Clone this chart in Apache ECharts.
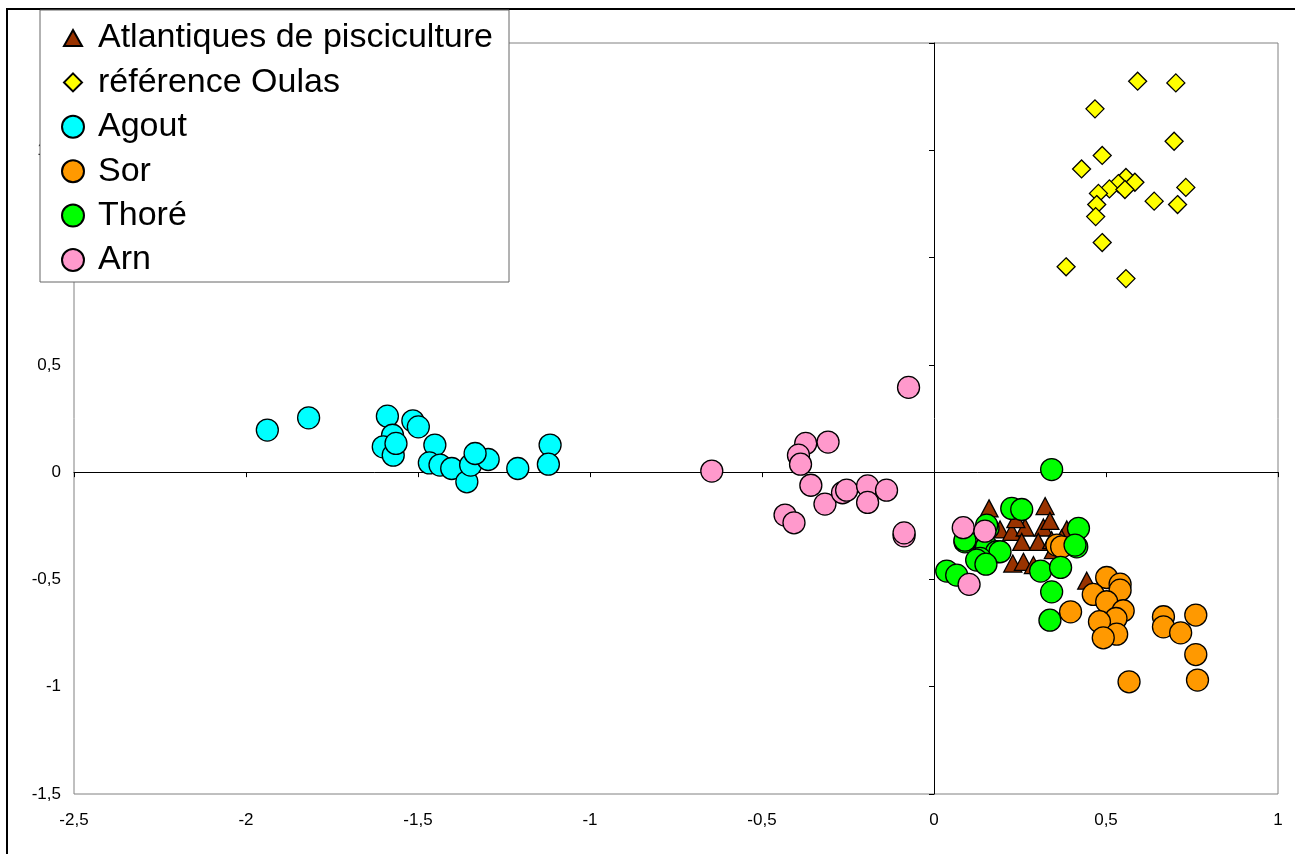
<!DOCTYPE html>
<html>
<head>
<meta charset="utf-8">
<script src="https://cdn.jsdelivr.net/npm/echarts@6/dist/echarts.min.js"></script>
<style>
html,body{margin:0;padding:0;background:#fff;}
#chart{width:1295px;height:854px;}
</style>
</head>
<body>
<div id="chart"></div>
<script>
const seriesNames = ['Atlantiques de pisciculture', 'référence Oulas', 'Agout', 'Sor', 'Thoré', 'Arn'];

const atlantiques = [
  [0.160,-0.169],[0.323,-0.158],[0.192,-0.267],[0.226,-0.278],[0.265,-0.258],[0.318,-0.258],
  [0.337,-0.227],[0.238,-0.219],[0.255,-0.325],[0.303,-0.325],[0.342,-0.317],[0.386,-0.267],
  [0.371,-0.309],[0.229,-0.426],[0.260,-0.418],[0.289,-0.433],[0.347,-0.363],[0.444,-0.506]
];
const oulas = [
  [0.592,1.822],[0.703,1.814],[0.468,1.693],[0.698,1.542],[0.489,1.476],[0.429,1.413],
  [0.558,1.373],[0.536,1.345],[0.584,1.351],[0.732,1.327],[0.510,1.320],[0.555,1.317],
  [0.478,1.299],[0.640,1.263],[0.708,1.247],[0.473,1.247],[0.470,1.191],[0.489,1.070],
  [0.384,0.957],[0.558,0.902]
];
const agout = [
  [-1.938,0.196],[-1.818,0.253],[-1.589,0.261],[-1.574,0.172],[-1.601,0.118],[-1.572,0.079],
  [-1.564,0.134],[-1.515,0.239],[-1.499,0.211],[-1.451,0.126],[-1.467,0.043],[-1.436,0.033],
  [-1.402,0.017],[-1.358,-0.045],[-1.347,0.033],[-1.296,0.059],[-1.334,0.087],[-1.210,0.017],
  [-1.116,0.126],[-1.121,0.037]
];
const sor = [
  [0.357,-0.340],[0.371,-0.348],[0.502,-0.491],[0.541,-0.522],[0.463,-0.570],[0.541,-0.550],
  [0.502,-0.604],[0.550,-0.646],[0.529,-0.682],[0.481,-0.697],[0.531,-0.755],[0.492,-0.772],
  [0.397,-0.651],[0.667,-0.674],[0.667,-0.721],[0.717,-0.749],[0.761,-0.666],[0.761,-0.850],
  [0.567,-0.977],[0.766,-0.969]
];
const thore = [
  [0.342,0.012],[0.226,-0.169],[0.255,-0.174],[0.157,-0.261],[0.153,-0.247],[0.090,-0.325],
  [0.090,-0.317],[0.153,-0.348],[0.182,-0.371],[0.192,-0.371],[0.134,-0.402],[0.124,-0.410],
  [0.151,-0.429],[0.037,-0.461],[0.066,-0.480],[0.310,-0.461],[0.368,-0.444],[0.342,-0.558],
  [0.337,-0.690],[0.420,-0.262],[0.415,-0.348],[0.410,-0.340]
];
const arn = [
  [-0.074,0.395],[-0.373,0.134],[-0.308,0.140],[-0.394,0.079],[-0.388,0.037],[-0.646,0.005],
  [-0.358,-0.061],[-0.317,-0.149],[-0.266,-0.096],[-0.254,-0.084],[-0.193,-0.064],[-0.193,-0.141],
  [-0.138,-0.084],[-0.433,-0.200],[-0.407,-0.236],[-0.087,-0.297],[-0.087,-0.283],
  [0.085,-0.259],[0.148,-0.275],[0.102,-0.523]
];

const xRange = {min: -2.5, max: 1, interval: 0.5};
const yRange = {min: -1.5, max: 2, interval: 0.5};

const fmt = v => String(Math.round(v * 10) / 10).replace('.', ',');
const font = 'Liberation Sans, Arial, sans-serif';

// legend icons: padded paths so that the drawn shape is smaller than the 22px icon box
const legendIcons = [
  'path://M0,0M22,22M11,3L20,19L2,19Z',
  'path://M0,0M22,22M11,2L20,11L11,20L2,11Z',
  'circle', 'circle', 'circle', 'circle'
];

const chart = echarts.init(document.getElementById('chart'), null, {renderer: 'canvas'});

function mk(name, data, symbol, size, color) {
  return {
    name: name, type: 'scatter', data: data,
    xAxisIndex: 0, yAxisIndex: 0,
    symbol: symbol, symbolSize: size, symbolKeepAspect: true,
    itemStyle: {color: color, borderColor: '#000', borderWidth: 1.3, opacity: 1},
    emphasis: {disabled: true}
  };
}

chart.setOption({
  animation: false,
  backgroundColor: '#fff',
  graphic: [{
    type: 'rect', z: -10, silent: true,
    shape: {x: 7, y: 9, width: 1400, height: 1000},
    style: {fill: 'none', stroke: '#000', lineWidth: 2}
  }],
  grid: {left: 74, top: 43, right: 17, bottom: 60, show: true, borderColor: '#808080', borderWidth: 1, backgroundColor: 'transparent'},
  legend: {
    orient: 'vertical', left: 40, top: 10,
    padding: [11, 16, 5, 21],
    backgroundColor: '#fff', borderColor: '#666', borderWidth: 1,
    itemWidth: 40, itemHeight: 22, itemGap: 10.4,
    symbolKeepAspect: true,
    textStyle: {fontFamily: font, fontSize: 34, color: '#000'},
    data: seriesNames.map((n, i) => ({name: n, icon: legendIcons[i]}))
  },
  xAxis: [
    {type: 'value', position: 'bottom', min: xRange.min, max: xRange.max, interval: xRange.interval,
     axisLine: {show: false, onZero: false}, axisTick: {show: false}, splitLine: {show: false},
     axisLabel: {formatter: fmt, color: '#000', fontFamily: font, fontSize: 17, margin: 18}},
    {type: 'value', position: 'top', min: xRange.min, max: xRange.max, interval: xRange.interval,
     axisLine: {show: true, onZero: true, lineStyle: {color: '#000', width: 1}},
     axisTick: {show: true, inside: true, length: 5, lineStyle: {color: '#000'}},
     axisLabel: {show: false}, splitLine: {show: false}}
  ],
  yAxis: [
    {type: 'value', position: 'left', min: yRange.min, max: yRange.max, interval: yRange.interval,
     axisLine: {show: false, onZero: false}, axisTick: {show: false}, splitLine: {show: false},
     axisLabel: {formatter: fmt, color: '#000', fontFamily: font, fontSize: 17, margin: 13}},
    {type: 'value', position: 'right', min: yRange.min, max: yRange.max, interval: yRange.interval,
     axisLine: {show: true, onZero: true, lineStyle: {color: '#000', width: 1}},
     axisTick: {show: true, inside: true, length: 5, lineStyle: {color: '#000'}},
     axisLabel: {show: false}, splitLine: {show: false}}
  ],
  series: [
    mk(seriesNames[0], atlantiques, 'triangle', [18, 17], '#993300'),
    mk(seriesNames[1], oulas, 'diamond', 18, '#FFFF00'),
    mk(seriesNames[2], agout, 'circle', 22, '#00FFFF'),
    mk(seriesNames[3], sor, 'circle', 22, '#FF9900'),
    mk(seriesNames[4], thore, 'circle', 22, '#00FF00'),
    mk(seriesNames[5], arn, 'circle', 22, '#FF99CC')
  ]
});
</script>
</body>
</html>
